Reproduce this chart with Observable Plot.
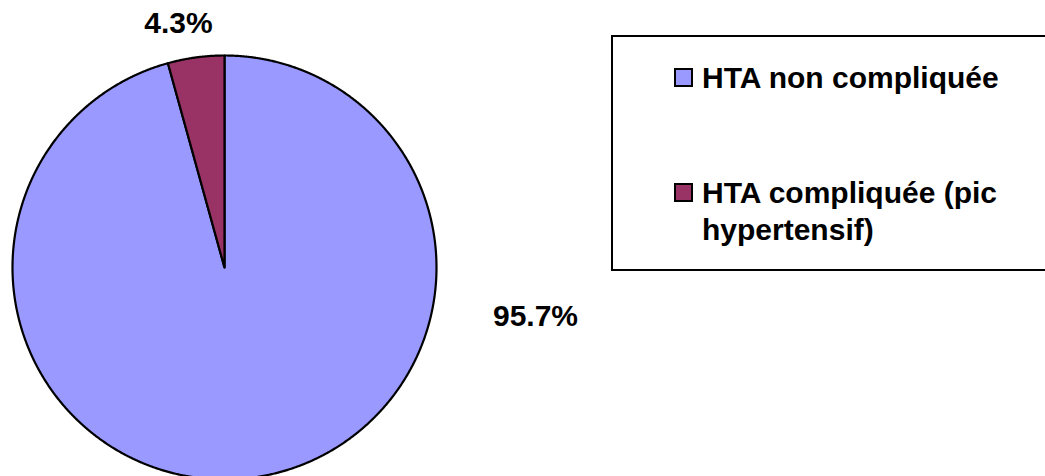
<!DOCTYPE html>
<html>
<head>
<meta charset="utf-8">
<script src="https://cdn.jsdelivr.net/npm/d3@7"></script>
<script src="https://cdn.jsdelivr.net/npm/@observablehq/plot@0.6"></script>
<style>
  html, body { margin: 0; padding: 0; background: #fff; overflow: hidden; }
  #wrap { position: relative; width: 1045px; height: 476px; overflow: hidden; font-family: "Liberation Sans", Arial, sans-serif; }
  #legend { position: absolute; left: 611px; top: 35px; width: 460px; height: 232px; border: 2px solid #000; box-sizing: content-box; }
  .item { position: absolute; left: 89px; font-weight: bold; font-size: 30px; line-height: 37px; color: #000; white-space: nowrap; }
  .sw { position: absolute; left: -28px; top: 9px; width: 15px; height: 15px; border: 2px solid #000; }
</style>
</head>
<body>
<div id="wrap"></div>
<script>
// Data
const categories = ["HTA non compliquée", "HTA compliquée (pic hypertensif)"];
const values = [95.7, 4.3];
const labels = ["95.7%", "4.3%"];
const colors = ["#9999FF", "#993366"];

// Geometry (pixels)
const W = 1045, H = 476, cx = 224, cy = 267, R = 212;

const pie = d3.pie().sort(null).value(d => d)(values);

function slicePoints(s) {
  const pts = [{x: 0, y: 0}];
  const n = Math.max(2, Math.ceil((s.endAngle - s.startAngle) / (Math.PI / 720)));
  for (let i = 0; i <= n; i++) {
    const a = s.startAngle + (s.endAngle - s.startAngle) * i / n;
    pts.push({x: Math.sin(a), y: Math.cos(a)});
  }
  return pts;
}

// label anchor positions in pie-radius units
const labelPos = [
  {x: (535 - cx) / R, y: (cy - 316) / R},
  {x: (178 - cx) / R, y: (cy - 23) / R}
];
const labelData = labels.map((t, i) => ({text: t, ...labelPos[i]}));

const marks = pie.map((s, i) => Plot.line(slicePoints(s), {
  x: "x", y: "y", curve: "linear-closed",
  fill: colors[i], stroke: "#000", strokeWidth: 2.2, strokeLinejoin: "round"
}));
marks.push(Plot.text(labelData, {
  x: "x", y: "y", text: "text",
  fontSize: 30, fontWeight: "bold", fill: "#000",
  fontFamily: "Liberation Sans, Arial, sans-serif"
}));

const chart = Plot.plot({
  width: W, height: H,
  margin: 0,
  x: {domain: [-cx / R, (W - cx) / R], axis: null},
  y: {domain: [-(H - cy) / R, cy / R], axis: null},
  style: {background: "#fff", overflow: "hidden"},
  marks
});

const wrap = document.getElementById("wrap");
wrap.appendChild(chart);

// Legend
const legend = document.createElement("div");
legend.id = "legend";
const tops = [22, 137];
categories.forEach((c, i) => {
  const it = document.createElement("div");
  it.className = "item";
  it.style.top = tops[i] + "px";
  const sw = document.createElement("div");
  sw.className = "sw";
  sw.style.background = colors[i];
  it.appendChild(sw);
  const txt = document.createElement("span");
  txt.textContent = i === 1 ? "HTA compliquée (pic" : c;
  it.appendChild(txt);
  if (i === 1) {
    it.appendChild(document.createElement("br"));
    const t2 = document.createElement("span");
    t2.textContent = "hypertensif)";
    it.appendChild(t2);
  }
  legend.appendChild(it);
});
wrap.appendChild(legend);
</script>
</body>
</html>
